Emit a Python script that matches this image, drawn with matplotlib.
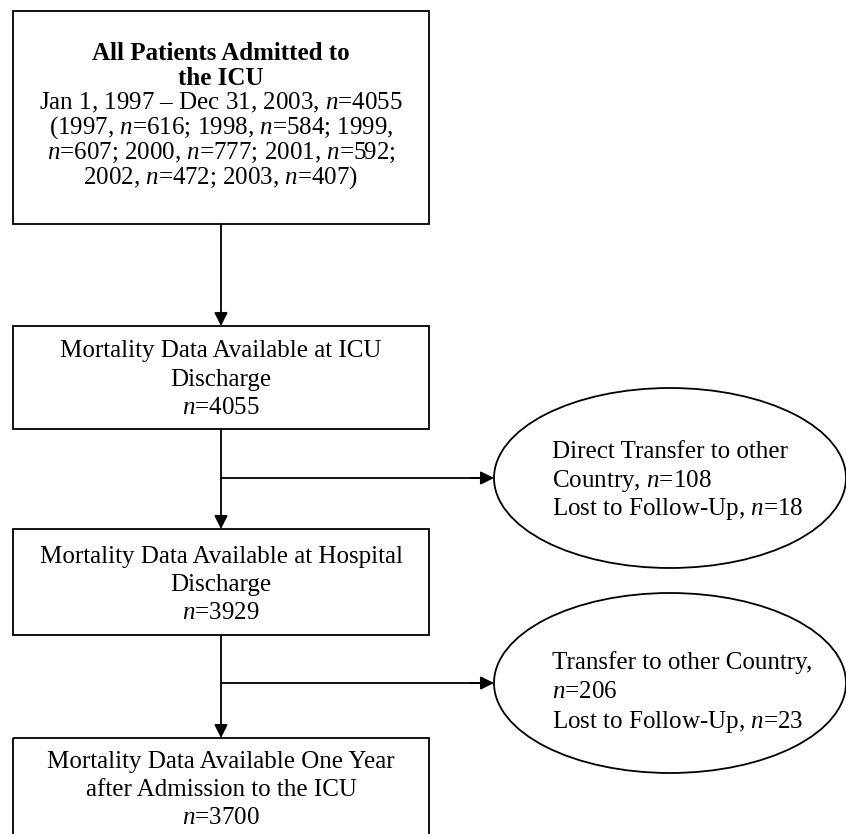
import matplotlib.pyplot as plt
from matplotlib.patches import Rectangle, Ellipse, FancyArrowPatch

plt.rcParams['font.family'] = 'Liberation Serif'
plt.rcParams['mathtext.fontset'] = 'custom'
plt.rcParams['mathtext.rm'] = 'Liberation Serif'
plt.rcParams['mathtext.it'] = 'Liberation Serif:italic'

# Datos del diagrama
anios = [1997, 1998, 1999, 2000, 2001, 2002, 2003]
n_anio = [616, 584, 607, 777, 592, 472, 407]
n_total = 4055
n_alta_uci = 4055
n_alta_hosp = 3929
n_un_anio = 3700
traslado_1, perdidos_1 = 108, 18
traslado_2, perdidos_2 = 206, 23

titulo_1 = ['All Patients Admitted to', 'the ICU']
lineas_1 = [
    'Jan 1, 1997 – Dec 31, 2003, $n$=%d' % n_total,
    '(%d, $n$=%d; %d, $n$=%d; %d,' % (anios[0], n_anio[0], anios[1], n_anio[1], anios[2]),
    '$n$=%d; %d, $n$=%d; %d, $n$=%d;' % (n_anio[2], anios[3], n_anio[3], anios[4], n_anio[4]),
    '%d, $n$=%d; %d, $n$=%d)' % (anios[5], n_anio[5], anios[6], n_anio[6]),
]
lineas_2 = ['Mortality Data Available at ICU', 'Discharge', '$n$=%d' % n_alta_uci]
lineas_3 = ['Mortality Data Available at Hospital', 'Discharge', '$n$=%d' % n_alta_hosp]
lineas_4 = ['Mortality Data Available One Year', 'after Admission to the ICU', '$n$=%d' % n_un_anio]
elipse_1 = ['Direct Transfer to other', 'Country, $n$=%d' % traslado_1,
            'Lost to Follow-Up, $n$=%d' % perdidos_1]
elipse_2 = ['Transfer to other Country,', '$n$=%d' % traslado_2,
            'Lost to Follow-Up, $n$=%d' % perdidos_2]

fig = plt.figure(figsize=(8.46, 8.34), dpi=100)
ax = fig.add_axes([0, 0, 1, 1])
ax.set_xlim(0, 846)
ax.set_ylim(834, 0)
ax.axis('off')

lw = 1.3
fs = 18
cx = 221

# Cajas (x, y_top, alto)
cajas = [(13, 11, 213), (13, 326, 103), (13, 529, 106), (13, 738, 120)]
for x0, y0, h in cajas:
    ax.add_patch(Rectangle((x0, y0), 416, h, fill=False, lw=lw, ec='black'))

def escribir(lineas, x, y0, paso, ha='center', **kw):
    for k, t in enumerate(lineas):
        ax.text(x, y0 + k * paso, t, ha=ha, va='center', fontsize=fs, **kw)

escribir(titulo_1, cx, 53, 25, fontweight='bold')
escribir(lineas_1, cx, 103, 25)
escribir(lineas_2, cx, 351, 28.5)
escribir(lineas_3, cx, 557, 28)
escribir(lineas_4, cx, 762, 28)

# Elipses
for cy in [478, 683]:
    ax.add_patch(Ellipse((670, cy), 352, 180, fill=False, lw=lw, ec='black'))
escribir(elipse_1, 552, 452, 28.5, ha='left')
escribir(elipse_2, 552, 663, 29.5, ha='left')

def flecha(p0, p1):
    ax.add_patch(FancyArrowPatch(p0, p1, arrowstyle='-|>', mutation_scale=20,
                                 lw=lw, color='black', shrinkA=0, shrinkB=0))

flecha((cx, 224), (cx, 326))
flecha((cx, 429), (cx, 529))
flecha((cx, 635), (cx, 738))
ax.plot([cx, 480], [478, 478], color='black', lw=lw)
flecha((470, 478), (494, 478))
ax.plot([cx, 480], [683, 683], color='black', lw=lw)
flecha((470, 683), (494, 683))

fig.savefig('out.png', dpi=100)
